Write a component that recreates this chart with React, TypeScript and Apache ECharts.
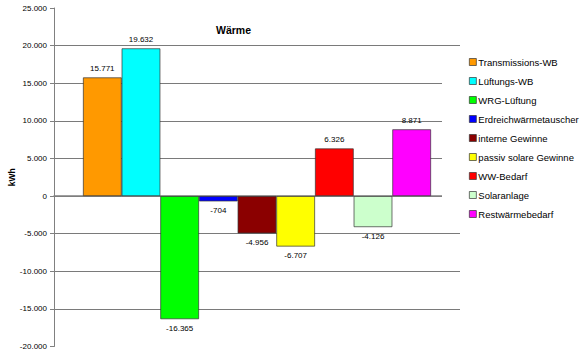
import React, { useEffect, useRef } from "react";
import * as echarts from "echarts";

const seriesNames = [
  "Transmissions-WB",
  "Lüftungs-WB",
  "WRG-Lüftung",
  "Erdreichwärmetauscher",
  "interne Gewinne",
  "passiv solare Gewinne",
  "WW-Bedarf",
  "Solaranlage",
  "Restwärmebedarf",
];
const seriesValues = [15771, 19632, -16365, -704, -4956, -6707, 6326, -4126, 8871];
const seriesColors = [
  "#FF9900",
  "#00FFFF",
  "#00FF00",
  "#0000FF",
  "#8B0000",
  "#FFFF00",
  "#FF0000",
  "#CCFFCC",
  "#FF00FF",
];
const categories = [""];
const yMin = -20000;
const yMax = 25000;
const yInterval = 5000;

const FONT = "Liberation Sans, Arial, sans-serif";

function fmt(n: number): string {
  const s = Math.abs(n)
    .toString()
    .replace(/\B(?=(\d{3})+(?!\d))/g, ".");
  return (n < 0 ? "-" : "") + s;
}

export default function App() {
  const ref = useRef<HTMLDivElement>(null);
  useEffect(() => {
    if (!ref.current) return;
    const chart = echarts.init(ref.current, undefined, { renderer: "svg" });
    chart.setOption({
      animation: false,
      backgroundColor: "#ffffff",
      title: {
        text: "Wärme",
        left: 216,
        top: 24,
        padding: 0,
        textStyle: {
          fontFamily: FONT,
          fontSize: 10.5,
          fontWeight: "bold",
          color: "#000",
        },
      },
      legend: {
        orient: "vertical",
        left: 442,
        top: 50,
        padding: [6, 10, 5, 27],
        backgroundColor: "#ffffff",
        itemWidth: 7,
        itemHeight: 7,
        itemGap: 7,
        icon: "rect",
        data: seriesNames,
        textStyle: {
          fontFamily: FONT,
          fontSize: 9.5,
          lineHeight: 12,
          color: "#000",
          padding: [0, 0, 0, -3],
        },
        itemStyle: { borderColor: "#333", borderWidth: 0.7 },
      },
      grid: {
        left: 54,
        right: 125,
        top: 8,
        bottom: 7.5,
        containLabel: false,
        outerBoundsMode: "none",
      },
      xAxis: {
        type: "category",
        data: categories,
        axisLine: { onZero: true, lineStyle: { color: "#808080", width: 1.5 } },
        axisTick: { show: false },
        axisLabel: { show: false },
        splitLine: { show: false },
      },
      yAxis: {
        type: "value",
        min: yMin,
        max: yMax,
        interval: yInterval,
        name: "kWh",
        nameLocation: "middle",
        nameRotate: 90,
        nameGap: 38,
        nameMoveOverlap: false,
        nameTextStyle: {
          fontFamily: FONT,
          fontSize: 8.5,
          fontWeight: "bold",
          color: "#000",
        },
        axisLine: { show: true, lineStyle: { color: "#808080", width: 1 } },
        axisTick: { show: true, length: 4, lineStyle: { color: "#808080" } },
        axisLabel: {
          formatter: (v: number) => fmt(v),
          fontFamily: FONT,
          fontSize: 8,
          color: "#000",
          margin: 7,
        },
        splitLine: {
          show: true,
          showMinLine: false,
          showMaxLine: false,
          lineStyle: { color: "#7a7a7a", width: 1 },
        },
      },
      series: seriesNames.map((name, i) => ({
        name,
        type: "bar",
        barWidth: 38.67,
        barGap: "0%",
        data: [seriesValues[i]],
        itemStyle: {
          color: seriesColors[i],
          borderColor: "#333",
          borderWidth: 0.7,
        },
        label: {
          show: true,
          position: seriesValues[i] >= 0 ? "top" : "bottom",
          distance: 5,
          formatter: (p: any) => fmt(p.value),
          fontFamily: FONT,
          fontSize: 8,
          color: "#000",
        },
      })),
    });
    return () => chart.dispose();
  }, []);
  return (
    <div
      ref={ref}
      style={{ position: "fixed", left: 0, top: 0, width: 585, height: 354 }}
    />
  );
}
